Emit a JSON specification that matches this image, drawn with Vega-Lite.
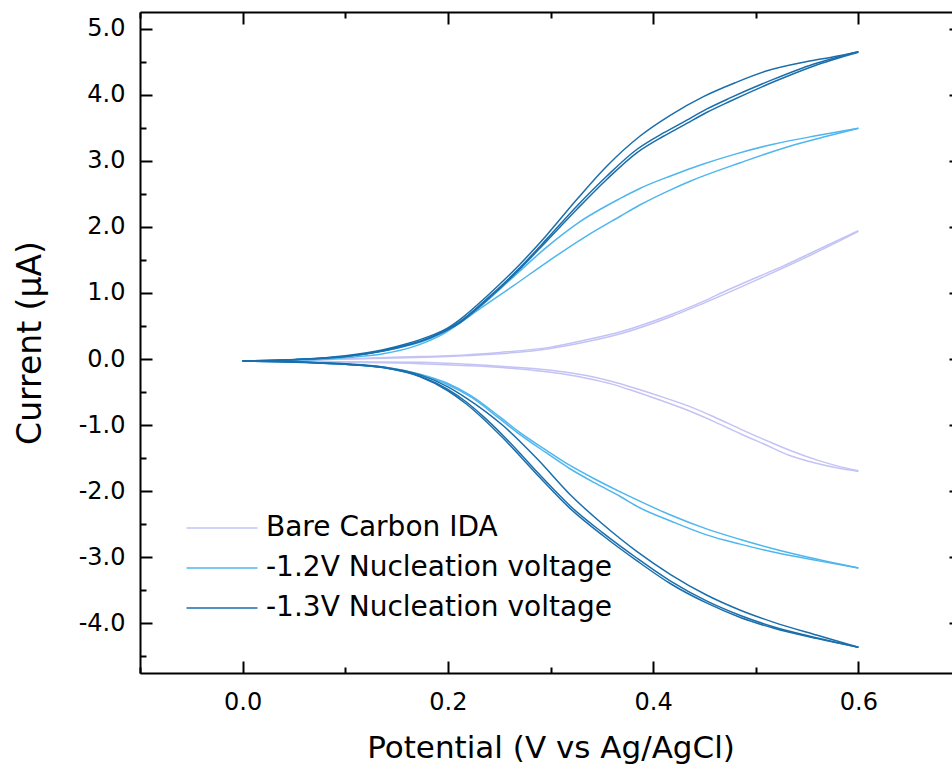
{
  "$schema": "https://vega.github.io/schema/vega-lite/v6.json",
  "width": 821,
  "height": 661,
  "autosize": {"type": "none"},
  "padding": {"left": 140, "top": 12, "right": -9, "bottom": 98},
  "background": "white",
  "config": {
    "view": {"stroke": null},
    "font": "DejaVu Sans",
    "axis": {
      "grid": false,
      "domainColor": "black",
      "domainWidth": 2,
      "tickColor": "black",
      "tickWidth": 2,
      "labelColor": "black",
      "labelFont": "DejaVu Sans",
      "labelFontSize": 24,
      "titleFont": "DejaVu Sans",
      "titleFontSize": 31,
      "titleFontWeight": "normal",
      "titleColor": "black"
    }
  },
  "datasets": {
    "cv": [
      {"s":"Bare Carbon IDA","t":"bu1","v":0,"i":-0.03},{"s":"Bare Carbon IDA","t":"bu1","v":0.05,"i":-0.02},{"s":"Bare Carbon IDA","t":"bu1","v":0.1,"i":0.0},{"s":"Bare Carbon IDA","t":"bu1","v":0.153,"i":0.03},{"s":"Bare Carbon IDA","t":"bu1","v":0.2,"i":0.05},{"s":"Bare Carbon IDA","t":"bu1","v":0.251,"i":0.10},{"s":"Bare Carbon IDA","t":"bu1","v":0.3,"i":0.18},{"s":"Bare Carbon IDA","t":"bu1","v":0.335,"i":0.29},{"s":"Bare Carbon IDA","t":"bu1","v":0.37,"i":0.42},{"s":"Bare Carbon IDA","t":"bu1","v":0.417,"i":0.67},{"s":"Bare Carbon IDA","t":"bu1","v":0.45,"i":0.88},{"s":"Bare Carbon IDA","t":"bu1","v":0.472,"i":1.04},{"s":"Bare Carbon IDA","t":"bu1","v":0.5,"i":1.23},{"s":"Bare Carbon IDA","t":"bu1","v":0.527,"i":1.41},{"s":"Bare Carbon IDA","t":"bu1","v":0.56,"i":1.65},{"s":"Bare Carbon IDA","t":"bu1","v":0.6,"i":1.94},
      {"s":"Bare Carbon IDA","t":"bu2","v":0,"i":-0.03},{"s":"Bare Carbon IDA","t":"bu2","v":0.1,"i":0.0},{"s":"Bare Carbon IDA","t":"bu2","v":0.2,"i":0.04},{"s":"Bare Carbon IDA","t":"bu2","v":0.251,"i":0.08},{"s":"Bare Carbon IDA","t":"bu2","v":0.3,"i":0.16},{"s":"Bare Carbon IDA","t":"bu2","v":0.335,"i":0.26},{"s":"Bare Carbon IDA","t":"bu2","v":0.37,"i":0.39},{"s":"Bare Carbon IDA","t":"bu2","v":0.417,"i":0.64},{"s":"Bare Carbon IDA","t":"bu2","v":0.45,"i":0.85},{"s":"Bare Carbon IDA","t":"bu2","v":0.5,"i":1.19},{"s":"Bare Carbon IDA","t":"bu2","v":0.527,"i":1.38},{"s":"Bare Carbon IDA","t":"bu2","v":0.56,"i":1.62},{"s":"Bare Carbon IDA","t":"bu2","v":0.6,"i":1.93},
      {"s":"Bare Carbon IDA","t":"bl1","v":0,"i":-0.03},{"s":"Bare Carbon IDA","t":"bl1","v":0.05,"i":-0.03},{"s":"Bare Carbon IDA","t":"bl1","v":0.1,"i":-0.04},{"s":"Bare Carbon IDA","t":"bl1","v":0.173,"i":-0.05},{"s":"Bare Carbon IDA","t":"bl1","v":0.22,"i":-0.08},{"s":"Bare Carbon IDA","t":"bl1","v":0.27,"i":-0.13},{"s":"Bare Carbon IDA","t":"bl1","v":0.3,"i":-0.17},{"s":"Bare Carbon IDA","t":"bl1","v":0.335,"i":-0.25},{"s":"Bare Carbon IDA","t":"bl1","v":0.36,"i":-0.34},{"s":"Bare Carbon IDA","t":"bl1","v":0.384,"i":-0.45},{"s":"Bare Carbon IDA","t":"bl1","v":0.41,"i":-0.58},{"s":"Bare Carbon IDA","t":"bl1","v":0.436,"i":-0.72},{"s":"Bare Carbon IDA","t":"bl1","v":0.46,"i":-0.88},{"s":"Bare Carbon IDA","t":"bl1","v":0.485,"i":-1.06},{"s":"Bare Carbon IDA","t":"bl1","v":0.51,"i":-1.23},{"s":"Bare Carbon IDA","t":"bl1","v":0.533,"i":-1.38},{"s":"Bare Carbon IDA","t":"bl1","v":0.56,"i":-1.53},{"s":"Bare Carbon IDA","t":"bl1","v":0.58,"i":-1.62},{"s":"Bare Carbon IDA","t":"bl1","v":0.6,"i":-1.69},
      {"s":"Bare Carbon IDA","t":"bl2","v":0,"i":-0.03},{"s":"Bare Carbon IDA","t":"bl2","v":0.1,"i":-0.05},{"s":"Bare Carbon IDA","t":"bl2","v":0.173,"i":-0.07},{"s":"Bare Carbon IDA","t":"bl2","v":0.22,"i":-0.10},{"s":"Bare Carbon IDA","t":"bl2","v":0.27,"i":-0.15},{"s":"Bare Carbon IDA","t":"bl2","v":0.3,"i":-0.20},{"s":"Bare Carbon IDA","t":"bl2","v":0.335,"i":-0.29},{"s":"Bare Carbon IDA","t":"bl2","v":0.36,"i":-0.38},{"s":"Bare Carbon IDA","t":"bl2","v":0.384,"i":-0.50},{"s":"Bare Carbon IDA","t":"bl2","v":0.41,"i":-0.64},{"s":"Bare Carbon IDA","t":"bl2","v":0.436,"i":-0.79},{"s":"Bare Carbon IDA","t":"bl2","v":0.46,"i":-0.95},{"s":"Bare Carbon IDA","t":"bl2","v":0.485,"i":-1.13},{"s":"Bare Carbon IDA","t":"bl2","v":0.51,"i":-1.30},{"s":"Bare Carbon IDA","t":"bl2","v":0.533,"i":-1.46},{"s":"Bare Carbon IDA","t":"bl2","v":0.56,"i":-1.58},{"s":"Bare Carbon IDA","t":"bl2","v":0.58,"i":-1.65},{"s":"Bare Carbon IDA","t":"bl2","v":0.6,"i":-1.70},
      {"s":"-1.2V Nucleation voltage","t":"au1","v":0,"i":-0.03},{"s":"-1.2V Nucleation voltage","t":"au1","v":0.05,"i":-0.01},{"s":"-1.2V Nucleation voltage","t":"au1","v":0.1,"i":0.04},{"s":"-1.2V Nucleation voltage","t":"au1","v":0.137,"i":0.12},{"s":"-1.2V Nucleation voltage","t":"au1","v":0.16,"i":0.20},{"s":"-1.2V Nucleation voltage","t":"au1","v":0.183,"i":0.31},{"s":"-1.2V Nucleation voltage","t":"au1","v":0.212,"i":0.55},{"s":"-1.2V Nucleation voltage","t":"au1","v":0.238,"i":0.88},{"s":"-1.2V Nucleation voltage","t":"au1","v":0.27,"i":1.33},{"s":"-1.2V Nucleation voltage","t":"au1","v":0.296,"i":1.69},{"s":"-1.2V Nucleation voltage","t":"au1","v":0.326,"i":2.05},{"s":"-1.2V Nucleation voltage","t":"au1","v":0.368,"i":2.43},{"s":"-1.2V Nucleation voltage","t":"au1","v":0.387,"i":2.58},{"s":"-1.2V Nucleation voltage","t":"au1","v":0.417,"i":2.77},{"s":"-1.2V Nucleation voltage","t":"au1","v":0.449,"i":2.95},{"s":"-1.2V Nucleation voltage","t":"au1","v":0.48,"i":3.10},{"s":"-1.2V Nucleation voltage","t":"au1","v":0.517,"i":3.25},{"s":"-1.2V Nucleation voltage","t":"au1","v":0.56,"i":3.38},{"s":"-1.2V Nucleation voltage","t":"au1","v":0.6,"i":3.49},
      {"s":"-1.2V Nucleation voltage","t":"au2","v":0,"i":-0.03},{"s":"-1.2V Nucleation voltage","t":"au2","v":0.05,"i":-0.02},{"s":"-1.2V Nucleation voltage","t":"au2","v":0.1,"i":0.02},{"s":"-1.2V Nucleation voltage","t":"au2","v":0.137,"i":0.08},{"s":"-1.2V Nucleation voltage","t":"au2","v":0.165,"i":0.18},{"s":"-1.2V Nucleation voltage","t":"au2","v":0.192,"i":0.35},{"s":"-1.2V Nucleation voltage","t":"au2","v":0.231,"i":0.76},{"s":"-1.2V Nucleation voltage","t":"au2","v":0.264,"i":1.11},{"s":"-1.2V Nucleation voltage","t":"au2","v":0.296,"i":1.46},{"s":"-1.2V Nucleation voltage","t":"au2","v":0.335,"i":1.86},{"s":"-1.2V Nucleation voltage","t":"au2","v":0.368,"i":2.16},{"s":"-1.2V Nucleation voltage","t":"au2","v":0.387,"i":2.33},{"s":"-1.2V Nucleation voltage","t":"au2","v":0.417,"i":2.56},{"s":"-1.2V Nucleation voltage","t":"au2","v":0.436,"i":2.69},{"s":"-1.2V Nucleation voltage","t":"au2","v":0.485,"i":2.97},{"s":"-1.2V Nucleation voltage","t":"au2","v":0.533,"i":3.22},{"s":"-1.2V Nucleation voltage","t":"au2","v":0.569,"i":3.37},{"s":"-1.2V Nucleation voltage","t":"au2","v":0.6,"i":3.49},
      {"s":"-1.2V Nucleation voltage","t":"al1","v":0,"i":-0.03},{"s":"-1.2V Nucleation voltage","t":"al1","v":0.05,"i":-0.04},{"s":"-1.2V Nucleation voltage","t":"al1","v":0.1,"i":-0.08},{"s":"-1.2V Nucleation voltage","t":"al1","v":0.137,"i":-0.12},{"s":"-1.2V Nucleation voltage","t":"al1","v":0.173,"i":-0.23},{"s":"-1.2V Nucleation voltage","t":"al1","v":0.2,"i":-0.37},{"s":"-1.2V Nucleation voltage","t":"al1","v":0.222,"i":-0.55},{"s":"-1.2V Nucleation voltage","t":"al1","v":0.251,"i":-0.88},{"s":"-1.2V Nucleation voltage","t":"al1","v":0.27,"i":-1.11},{"s":"-1.2V Nucleation voltage","t":"al1","v":0.295,"i":-1.37},{"s":"-1.2V Nucleation voltage","t":"al1","v":0.319,"i":-1.61},{"s":"-1.2V Nucleation voltage","t":"al1","v":0.345,"i":-1.83},{"s":"-1.2V Nucleation voltage","t":"al1","v":0.368,"i":-2.01},{"s":"-1.2V Nucleation voltage","t":"al1","v":0.387,"i":-2.15},{"s":"-1.2V Nucleation voltage","t":"al1","v":0.417,"i":-2.36},{"s":"-1.2V Nucleation voltage","t":"al1","v":0.452,"i":-2.57},{"s":"-1.2V Nucleation voltage","t":"al1","v":0.485,"i":-2.73},{"s":"-1.2V Nucleation voltage","t":"al1","v":0.517,"i":-2.87},{"s":"-1.2V Nucleation voltage","t":"al1","v":0.56,"i":-3.03},{"s":"-1.2V Nucleation voltage","t":"al1","v":0.6,"i":-3.16},
      {"s":"-1.2V Nucleation voltage","t":"al2","v":0,"i":-0.03},{"s":"-1.2V Nucleation voltage","t":"al2","v":0.1,"i":-0.08},{"s":"-1.2V Nucleation voltage","t":"al2","v":0.137,"i":-0.13},{"s":"-1.2V Nucleation voltage","t":"al2","v":0.173,"i":-0.24},{"s":"-1.2V Nucleation voltage","t":"al2","v":0.2,"i":-0.39},{"s":"-1.2V Nucleation voltage","t":"al2","v":0.222,"i":-0.57},{"s":"-1.2V Nucleation voltage","t":"al2","v":0.251,"i":-0.91},{"s":"-1.2V Nucleation voltage","t":"al2","v":0.27,"i":-1.14},{"s":"-1.2V Nucleation voltage","t":"al2","v":0.295,"i":-1.41},{"s":"-1.2V Nucleation voltage","t":"al2","v":0.319,"i":-1.66},{"s":"-1.2V Nucleation voltage","t":"al2","v":0.345,"i":-1.89},{"s":"-1.2V Nucleation voltage","t":"al2","v":0.368,"i":-2.08},{"s":"-1.2V Nucleation voltage","t":"al2","v":0.387,"i":-2.25},{"s":"-1.2V Nucleation voltage","t":"al2","v":0.417,"i":-2.45},{"s":"-1.2V Nucleation voltage","t":"al2","v":0.452,"i":-2.66},{"s":"-1.2V Nucleation voltage","t":"al2","v":0.485,"i":-2.80},{"s":"-1.2V Nucleation voltage","t":"al2","v":0.517,"i":-2.92},{"s":"-1.2V Nucleation voltage","t":"al2","v":0.56,"i":-3.05},{"s":"-1.2V Nucleation voltage","t":"al2","v":0.6,"i":-3.16},
      {"s":"-1.3V Nucleation voltage","t":"cu1","v":0,"i":-0.03},{"s":"-1.3V Nucleation voltage","t":"cu1","v":0.05,"i":-0.01},{"s":"-1.3V Nucleation voltage","t":"cu1","v":0.1,"i":0.05},{"s":"-1.3V Nucleation voltage","t":"cu1","v":0.137,"i":0.14},{"s":"-1.3V Nucleation voltage","t":"cu1","v":0.16,"i":0.23},{"s":"-1.3V Nucleation voltage","t":"cu1","v":0.183,"i":0.35},{"s":"-1.3V Nucleation voltage","t":"cu1","v":0.2,"i":0.47},{"s":"-1.3V Nucleation voltage","t":"cu1","v":0.212,"i":0.60},{"s":"-1.3V Nucleation voltage","t":"cu1","v":0.238,"i":0.95},{"s":"-1.3V Nucleation voltage","t":"cu1","v":0.27,"i":1.43},{"s":"-1.3V Nucleation voltage","t":"cu1","v":0.296,"i":1.87},{"s":"-1.3V Nucleation voltage","t":"cu1","v":0.326,"i":2.42},{"s":"-1.3V Nucleation voltage","t":"cu1","v":0.355,"i":2.92},{"s":"-1.3V Nucleation voltage","t":"cu1","v":0.387,"i":3.37},{"s":"-1.3V Nucleation voltage","t":"cu1","v":0.417,"i":3.69},{"s":"-1.3V Nucleation voltage","t":"cu1","v":0.449,"i":3.97},{"s":"-1.3V Nucleation voltage","t":"cu1","v":0.48,"i":4.18},{"s":"-1.3V Nucleation voltage","t":"cu1","v":0.511,"i":4.36},{"s":"-1.3V Nucleation voltage","t":"cu1","v":0.55,"i":4.50},{"s":"-1.3V Nucleation voltage","t":"cu1","v":0.575,"i":4.57},{"s":"-1.3V Nucleation voltage","t":"cu1","v":0.6,"i":4.65},
      {"s":"-1.3V Nucleation voltage","t":"cu2","v":0,"i":-0.03},{"s":"-1.3V Nucleation voltage","t":"cu2","v":0.05,"i":-0.01},{"s":"-1.3V Nucleation voltage","t":"cu2","v":0.1,"i":0.04},{"s":"-1.3V Nucleation voltage","t":"cu2","v":0.137,"i":0.13},{"s":"-1.3V Nucleation voltage","t":"cu2","v":0.183,"i":0.33},{"s":"-1.3V Nucleation voltage","t":"cu2","v":0.212,"i":0.57},{"s":"-1.3V Nucleation voltage","t":"cu2","v":0.238,"i":0.91},{"s":"-1.3V Nucleation voltage","t":"cu2","v":0.27,"i":1.38},{"s":"-1.3V Nucleation voltage","t":"cu2","v":0.296,"i":1.81},{"s":"-1.3V Nucleation voltage","t":"cu2","v":0.326,"i":2.32},{"s":"-1.3V Nucleation voltage","t":"cu2","v":0.355,"i":2.77},{"s":"-1.3V Nucleation voltage","t":"cu2","v":0.384,"i":3.17},{"s":"-1.3V Nucleation voltage","t":"cu2","v":0.41,"i":3.42},{"s":"-1.3V Nucleation voltage","t":"cu2","v":0.429,"i":3.58},{"s":"-1.3V Nucleation voltage","t":"cu2","v":0.452,"i":3.78},{"s":"-1.3V Nucleation voltage","t":"cu2","v":0.475,"i":3.95},{"s":"-1.3V Nucleation voltage","t":"cu2","v":0.517,"i":4.23},{"s":"-1.3V Nucleation voltage","t":"cu2","v":0.556,"i":4.46},{"s":"-1.3V Nucleation voltage","t":"cu2","v":0.6,"i":4.65},
      {"s":"-1.3V Nucleation voltage","t":"cu3","v":0,"i":-0.03},{"s":"-1.3V Nucleation voltage","t":"cu3","v":0.1,"i":0.04},{"s":"-1.3V Nucleation voltage","t":"cu3","v":0.137,"i":0.12},{"s":"-1.3V Nucleation voltage","t":"cu3","v":0.183,"i":0.32},{"s":"-1.3V Nucleation voltage","t":"cu3","v":0.212,"i":0.55},{"s":"-1.3V Nucleation voltage","t":"cu3","v":0.238,"i":0.89},{"s":"-1.3V Nucleation voltage","t":"cu3","v":0.27,"i":1.36},{"s":"-1.3V Nucleation voltage","t":"cu3","v":0.296,"i":1.78},{"s":"-1.3V Nucleation voltage","t":"cu3","v":0.326,"i":2.27},{"s":"-1.3V Nucleation voltage","t":"cu3","v":0.355,"i":2.72},{"s":"-1.3V Nucleation voltage","t":"cu3","v":0.384,"i":3.12},{"s":"-1.3V Nucleation voltage","t":"cu3","v":0.41,"i":3.37},{"s":"-1.3V Nucleation voltage","t":"cu3","v":0.429,"i":3.53},{"s":"-1.3V Nucleation voltage","t":"cu3","v":0.452,"i":3.73},{"s":"-1.3V Nucleation voltage","t":"cu3","v":0.475,"i":3.90},{"s":"-1.3V Nucleation voltage","t":"cu3","v":0.517,"i":4.19},{"s":"-1.3V Nucleation voltage","t":"cu3","v":0.556,"i":4.43},{"s":"-1.3V Nucleation voltage","t":"cu3","v":0.6,"i":4.64},
      {"s":"-1.3V Nucleation voltage","t":"cl1","v":0,"i":-0.03},{"s":"-1.3V Nucleation voltage","t":"cl1","v":0.05,"i":-0.04},{"s":"-1.3V Nucleation voltage","t":"cl1","v":0.1,"i":-0.08},{"s":"-1.3V Nucleation voltage","t":"cl1","v":0.137,"i":-0.13},{"s":"-1.3V Nucleation voltage","t":"cl1","v":0.173,"i":-0.26},{"s":"-1.3V Nucleation voltage","t":"cl1","v":0.2,"i":-0.46},{"s":"-1.3V Nucleation voltage","t":"cl1","v":0.218,"i":-0.65},{"s":"-1.3V Nucleation voltage","t":"cl1","v":0.236,"i":-0.89},{"s":"-1.3V Nucleation voltage","t":"cl1","v":0.254,"i":-1.16},{"s":"-1.3V Nucleation voltage","t":"cl1","v":0.27,"i":-1.42},{"s":"-1.3V Nucleation voltage","t":"cl1","v":0.287,"i":-1.71},{"s":"-1.3V Nucleation voltage","t":"cl1","v":0.303,"i":-1.97},{"s":"-1.3V Nucleation voltage","t":"cl1","v":0.319,"i":-2.22},{"s":"-1.3V Nucleation voltage","t":"cl1","v":0.351,"i":-2.63},{"s":"-1.3V Nucleation voltage","t":"cl1","v":0.384,"i":-3.01},{"s":"-1.3V Nucleation voltage","t":"cl1","v":0.417,"i":-3.36},{"s":"-1.3V Nucleation voltage","t":"cl1","v":0.452,"i":-3.66},{"s":"-1.3V Nucleation voltage","t":"cl1","v":0.485,"i":-3.88},{"s":"-1.3V Nucleation voltage","t":"cl1","v":0.517,"i":-4.05},{"s":"-1.3V Nucleation voltage","t":"cl1","v":0.56,"i":-4.22},{"s":"-1.3V Nucleation voltage","t":"cl1","v":0.6,"i":-4.36},
      {"s":"-1.3V Nucleation voltage","t":"cl2","v":0,"i":-0.03},{"s":"-1.3V Nucleation voltage","t":"cl2","v":0.1,"i":-0.08},{"s":"-1.3V Nucleation voltage","t":"cl2","v":0.137,"i":-0.13},{"s":"-1.3V Nucleation voltage","t":"cl2","v":0.173,"i":-0.27},{"s":"-1.3V Nucleation voltage","t":"cl2","v":0.2,"i":-0.48},{"s":"-1.3V Nucleation voltage","t":"cl2","v":0.218,"i":-0.68},{"s":"-1.3V Nucleation voltage","t":"cl2","v":0.254,"i":-1.20},{"s":"-1.3V Nucleation voltage","t":"cl2","v":0.287,"i":-1.75},{"s":"-1.3V Nucleation voltage","t":"cl2","v":0.319,"i":-2.26},{"s":"-1.3V Nucleation voltage","t":"cl2","v":0.351,"i":-2.67},{"s":"-1.3V Nucleation voltage","t":"cl2","v":0.384,"i":-3.05},{"s":"-1.3V Nucleation voltage","t":"cl2","v":0.417,"i":-3.40},{"s":"-1.3V Nucleation voltage","t":"cl2","v":0.452,"i":-3.69},{"s":"-1.3V Nucleation voltage","t":"cl2","v":0.485,"i":-3.91},{"s":"-1.3V Nucleation voltage","t":"cl2","v":0.517,"i":-4.07},{"s":"-1.3V Nucleation voltage","t":"cl2","v":0.56,"i":-4.23},{"s":"-1.3V Nucleation voltage","t":"cl2","v":0.6,"i":-4.36},
      {"s":"-1.3V Nucleation voltage","t":"cl3","v":0,"i":-0.03},{"s":"-1.3V Nucleation voltage","t":"cl3","v":0.1,"i":-0.07},{"s":"-1.3V Nucleation voltage","t":"cl3","v":0.137,"i":-0.12},{"s":"-1.3V Nucleation voltage","t":"cl3","v":0.173,"i":-0.24},{"s":"-1.3V Nucleation voltage","t":"cl3","v":0.2,"i":-0.42},{"s":"-1.3V Nucleation voltage","t":"cl3","v":0.218,"i":-0.59},{"s":"-1.3V Nucleation voltage","t":"cl3","v":0.254,"i":-1.01},{"s":"-1.3V Nucleation voltage","t":"cl3","v":0.287,"i":-1.51},{"s":"-1.3V Nucleation voltage","t":"cl3","v":0.319,"i":-2.05},{"s":"-1.3V Nucleation voltage","t":"cl3","v":0.351,"i":-2.50},{"s":"-1.3V Nucleation voltage","t":"cl3","v":0.384,"i":-2.91},{"s":"-1.3V Nucleation voltage","t":"cl3","v":0.417,"i":-3.26},{"s":"-1.3V Nucleation voltage","t":"cl3","v":0.452,"i":-3.57},{"s":"-1.3V Nucleation voltage","t":"cl3","v":0.485,"i":-3.80},{"s":"-1.3V Nucleation voltage","t":"cl3","v":0.517,"i":-3.98},{"s":"-1.3V Nucleation voltage","t":"cl3","v":0.56,"i":-4.18},{"s":"-1.3V Nucleation voltage","t":"cl3","v":0.6,"i":-4.36}
    ]
  },
  "layer": [
    {
      "data": {"name": "cv"},
      "mark": {"type": "line", "strokeWidth": 1.5, "interpolate": "monotone"},
      "encoding": {
        "x": {
          "field": "v", "type": "quantitative",
          "scale": {"domain": [-0.1, 0.7], "nice": false, "zero": false},
          "axis": {
            "orient": "bottom",
            "values": [-0.1, 0, 0.1, 0.2, 0.3, 0.4, 0.5, 0.6, 0.7],
            "tickSize": {"condition": {"test": "round(datum.value*10) % 2 == 0", "value": -12}, "value": -6},
            "labelExpr": "round(datum.value*10) % 2 == 0 ? format(datum.value, '.1f') : ''",
            "labelPadding": 29,
            "labelFlush": false,
            "labelOverlap": false,
            "title": "Potential (V vs Ag/AgCl)",
            "titlePadding": 13
          }
        },
        "y": {
          "field": "i", "type": "quantitative",
          "scale": {"domain": [-4.75, 5.25], "nice": false, "zero": false},
          "axis": {
            "orient": "left",
            "values": [-4.5, -4, -3.5, -3, -2.5, -2, -1.5, -1, -0.5, 0, 0.5, 1, 1.5, 2, 2.5, 3, 3.5, 4, 4.5, 5],
            "tickSize": {"condition": {"test": "round(datum.value*2) % 2 == 0", "value": -12}, "value": -6},
            "labelExpr": "round(datum.value*2) % 2 == 0 ? (datum.value < 0 ? '-' : '') + format(abs(datum.value), '.1f') : ''",
            "labelPadding": 27,
            "labelFlush": false,
            "labelOverlap": false,
            "title": "Current (μA)",
            "titleFontSize": 33,
            "titlePadding": 31
          }
        },
        "color": {
          "field": "s", "type": "nominal",
          "scale": {
            "domain": ["Bare Carbon IDA", "-1.2V Nucleation voltage", "-1.3V Nucleation voltage"],
            "range": ["#c3c3f5", "#4fb6ee", "#1a6eab"]
          },
          "legend": {
            "orient": "none",
            "legendX": 68,
            "legendY": 502,
            "title": null,
            "symbolType": "M-4,0H4",
            "symbolSize": 315,
            "symbolStrokeWidth": 1.5,
            "labelFontSize": 28,
            "labelFont": "DejaVu Sans",
            "labelColor": "black",
            "labelOffset": 30,
            "rowPadding": 12,
            "padding": 0,
            "labelLimit": 500
          }
        },
        "detail": {"field": "t"}
      }
    },
    {
      "data": {"name": "cv"},
      "mark": {"type": "point", "opacity": 0},
      "encoding": {
        "x": {
          "field": "v", "type": "quantitative",
          "scale": {"domain": [-0.1, 0.7], "nice": false, "zero": false},
          "axis": {
            "orient": "top",
            "values": [-0.1, 0, 0.1, 0.2, 0.3, 0.4, 0.5, 0.6, 0.7],
            "tickSize": {"condition": {"test": "round(datum.value*10) % 2 == 0", "value": -12}, "value": -6},
            "labels": false,
            "title": null
          }
        },
        "y": {
          "field": "i", "type": "quantitative",
          "scale": {"domain": [-4.75, 5.25], "nice": false, "zero": false},
          "axis": {
            "orient": "right",
            "values": [-4.5, -4, -3.5, -3, -2.5, -2, -1.5, -1, -0.5, 0, 0.5, 1, 1.5, 2, 2.5, 3, 3.5, 4, 4.5, 5],
            "tickSize": {"condition": {"test": "round(datum.value*2) % 2 == 0", "value": -12}, "value": -6},
            "labels": false,
            "title": null
          }
        }
      }
    }
  ],
  "resolve": {
    "scale": {"x": "independent", "y": "independent"},
    "axis": {"x": "independent", "y": "independent"}
  }
}
